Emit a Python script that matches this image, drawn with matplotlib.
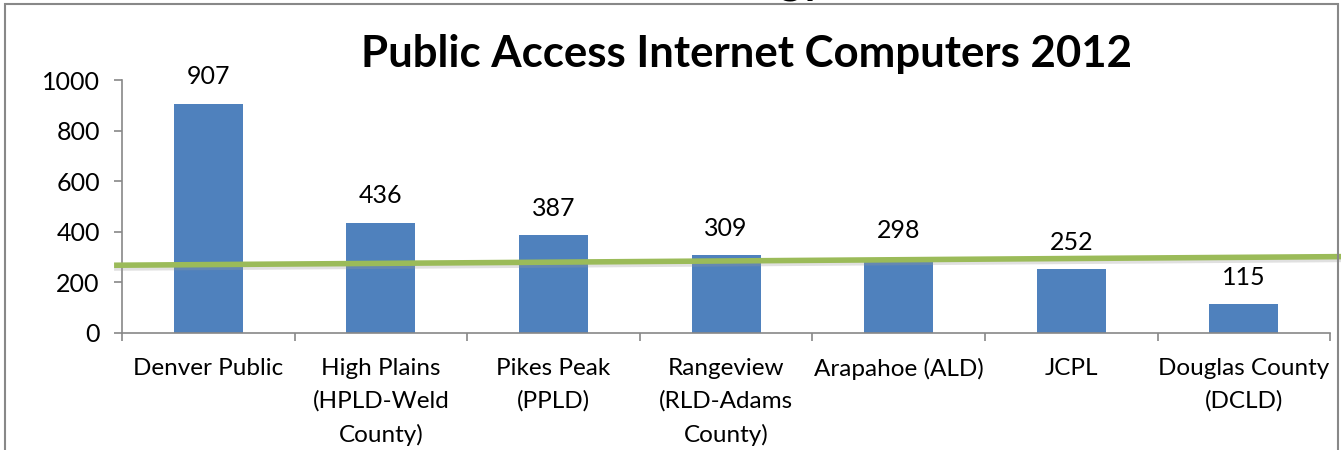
import numpy as np
import matplotlib
matplotlib.use("Agg")
from matplotlib import pyplot as plt
from matplotlib.patches import Rectangle
import matplotlib.patheffects as pe

# data
libraries = ["Denver Public", "High Plains\n(HPLD-Weld\nCounty)", "Pikes Peak\n(PPLD)",
             "Rangeview\n(RLD-Adams\nCounty)", "Arapahoe (ALD)", "JCPL", "Douglas County\n(DCLD)"]
computers = [907, 436, 387, 309, 298, 252, 115]
trend_x = [-0.53, 6.56]
trend_y = [268, 302]

BLUE = "#4F81BD"
GREEN = "#9BBB59"
GREY = "#888888"

plt.rcParams["font.family"] = ["Lato", "DejaVu Sans"]

fig = plt.figure(figsize=(13.41, 4.5), dpi=100)
ax = fig.add_axes([0.091, 0.26, 0.901, 0.562])

x = np.arange(len(computers))
ax.bar(x, computers, width=0.4, color=BLUE, zorder=2)
for xi, v in zip(x, computers):
    ax.annotate(str(v), (xi, v), xytext=(0, 11), textcoords="offset points",
                ha="center", va="bottom", fontsize=18, zorder=3)

# trend line runs past the plot area on both sides
ax.plot(trend_x, trend_y, color=GREEN, lw=4, clip_on=False, zorder=4,
        path_effects=[pe.SimpleLineShadow(offset=(0, -2), shadow_color="#999999", alpha=0.3),
                      pe.Normal()])

ax.set_xlim(-0.5, 6.5)
ax.set_ylim(0, 1000)
ax.set_yticks(range(0, 1001, 200))
ax.set_xticks(x)
ax.set_xticklabels(libraries, fontsize=17.5, linespacing=1.65, va="top")
ax.set_xticks(np.arange(-0.5, 7, 1), minor=True)
ax.tick_params(axis="x", which="major", length=0, pad=18)
ax.tick_params(axis="x", which="minor", length=6, color=GREY, width=1.2)
ax.tick_params(axis="y", length=6, color=GREY, width=1.2, labelsize=18, pad=10)
for s in ["top", "right"]:
    ax.spines[s].set_visible(False)
for s in ["left", "bottom"]:
    ax.spines[s].set_color(GREY)
    ax.spines[s].set_linewidth(1.2)

fig.text(0.557, 0.881, "Public Access Internet Computers 2012", ha="center", va="center",
         fontsize=31.5, fontweight="bold")
# descenders of the heading above the chart, cut off by the top edge
fig.text(0.616, 1.014, "Technology", ha="right", va="baseline", fontsize=31.5, fontweight="bold")

fig.patches.append(Rectangle((5 / 1341, -0.1), 1333 / 1341, 1.1 - 3.5 / 450,
                             transform=fig.transFigure, fill=False, edgecolor=GREY, lw=1.5))

fig.savefig("out.png", dpi=100)
